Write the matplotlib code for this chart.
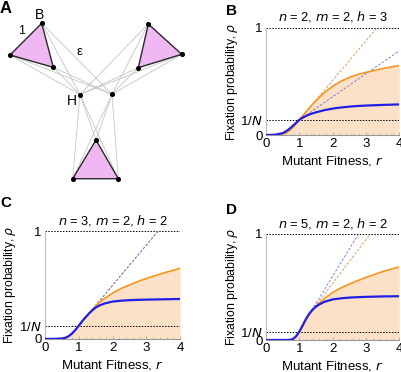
import numpy as np
import matplotlib
matplotlib.use('Agg')
import matplotlib.pyplot as plt

NARROW = ['Liberation Sans Narrow', 'Liberation Sans', 'DejaVu Sans']
plt.rcParams['font.family'] = NARROW
plt.rcParams['mathtext.fontset'] = 'custom'
plt.rcParams['mathtext.rm'] = 'Liberation Sans Narrow'
plt.rcParams['mathtext.it'] = 'Liberation Sans Narrow:italic'

# ---- panel A: network (pixel coordinates) ----
tri_tl = [(41.7, 23.3), (10.0, 55.0), (53.3, 67.3)]
tri_tr = [(148.3, 24.0), (181.7, 54.3), (138.3, 67.7)]
tri_bt = [(96.0, 140.0), (72.7, 178.7), (118.3, 178.7)]
hubs = [(80.0, 94.5), (112.0, 94.3)]

# ---- panels B-D: fixation probability curves ----
r = [0, 0.25, 0.5, 0.6, 0.7, 0.8, 0.9, 1.0, 1.1, 1.2, 1.3, 1.4, 1.5, 1.6,
     1.75, 2.0, 2.25, 2.5, 2.75, 3.0, 3.5, 4.0]

b_inv_n = 0.143
b_blue = [0, 0.002, 0.018, 0.035, 0.058, 0.085, 0.114, 0.143, 0.162, 0.178,
          0.192, 0.203, 0.212, 0.22, 0.232, 0.247, 0.257, 0.265, 0.271, 0.275,
          0.281, 0.286]
b_orange = [0, 0, 0.008, 0.02, 0.04, 0.068, 0.103, 0.143, 0.18, 0.216,
            0.252, 0.288, 0.322, 0.352, 0.395, 0.455, 0.502, 0.538, 0.565, 0.585,
            0.62, 0.648]
b_dash_blue = ([1.0, 4.0], [0.143, 0.786])
b_dash_orange = ([1.0, 3.33], [0.143, 1.0])

c_inv_n = 0.123
c_blue = [0, 0, 0.003, 0.01, 0.025, 0.05, 0.083, 0.123, 0.163, 0.2,
          0.235, 0.265, 0.29, 0.308, 0.327, 0.346, 0.354, 0.359, 0.362, 0.364,
          0.367, 0.37]
c_orange = [0, 0, 0.003, 0.01, 0.025, 0.05, 0.083, 0.123, 0.163, 0.2,
            0.236, 0.271, 0.305, 0.335, 0.372, 0.425, 0.467, 0.5, 0.532, 0.56,
            0.61, 0.654]
c_dash_blue = ([1.0, 3.35], [0.123, 1.0])
c_dash_orange = ([1.0, 3.35], [0.123, 1.0])

d_inv_n = 0.079
d_blue = [0, 0, 0, 0, 0.001, 0.008, 0.035, 0.08, 0.14, 0.2,
          0.25, 0.288, 0.315, 0.336, 0.36, 0.383, 0.393, 0.4, 0.404, 0.407,
          0.411, 0.413]
d_orange = [0, 0, 0, 0, 0.001, 0.005, 0.03, 0.079, 0.13, 0.19,
            0.24, 0.28, 0.318, 0.35, 0.39, 0.448, 0.492, 0.527, 0.56, 0.59,
            0.645, 0.69]
d_dash_blue = ([1.3, 2.78], [0.245, 1.0])
d_dash_orange = ([1.3, 3.13], [0.245, 1.0])

titles = [r'$n$ = 2, $m$ = 2, $h$ = 3', r'$n$ = 3, $m$ = 2, $h$ = 2',
          r'$n$ = 5, $m$ = 2, $h$ = 2']

ORANGE = '#f7941d'
BLUE = '#1f1fe6'
FILL = '#fde1c6'

fig = plt.figure(figsize=(4.02, 3.72), dpi=100)

# panel A
axA = fig.add_axes([0, 0.5, 0.5, 0.5])
axA.set_xlim(0, 201)
axA.set_ylim(186, 0)
axA.axis('off')
for tri in (tri_tl, tri_tr, tri_bt):
    for p in tri:
        for h in hubs:
            axA.plot([p[0], h[0]], [p[1], h[1]], color='#c4c4c4', lw=0.6, zorder=1)
for tri in (tri_tl, tri_tr, tri_bt):
    xs = [p[0] for p in tri]
    ys = [p[1] for p in tri]
    axA.fill(xs, ys, facecolor='#f0b8f2', edgecolor='#2a2a2a', lw=1.0, zorder=2)
allpts = tri_tl + tri_tr + tri_bt + hubs
axA.scatter([p[0] for p in allpts], [p[1] for p in allpts], s=7, color='black', zorder=3)
axA.text(40, 15, 'B', fontsize=10, ha='center', va='center')
axA.text(22, 31, '1', fontsize=9, ha='center', va='center')
axA.text(80, 52, 'ε', fontsize=9.5, ha='center', va='center')
axA.text(72, 101, 'H', fontsize=10, ha='center', va='center')


def panel(rect, blue, orange, inv_n, dash_b, dash_o, title):
    ax = fig.add_axes(rect)
    ax.fill_between(r, 0, orange, color=FILL, lw=0, zorder=1)
    ax.axhline(1.0, color='black', ls=(0, (1.5, 1.5)), lw=0.7, zorder=2)
    ax.axhline(inv_n, color='black', ls=(0, (1.5, 1.5)), lw=0.7, zorder=2)
    ax.plot(dash_o[0], dash_o[1], color='#d9884a', ls=(0, (3, 2)), lw=0.6, zorder=3)
    ax.plot(dash_b[0], dash_b[1], color='#6a6ae0', ls=(0, (3, 2)), lw=0.6, zorder=3)
    ax.plot(r, orange, color=ORANGE, lw=1.2, zorder=4)
    ax.plot(r, blue, color=BLUE, lw=1.6, zorder=5)
    ax.set_xlim(0, 4)
    ax.set_ylim(0, 1)
    ax.set_xticks([0, 1, 2, 3, 4])
    ax.set_xticks(np.arange(0, 4.01, 0.2), minor=True)
    ax.set_yticks([0, inv_n, 1])
    ax.set_yticklabels(['0', r'1/$N$', '1'])
    ax.tick_params(axis='x', which='major', direction='in', length=2.5, width=0.5,
                   color='#999999', labelsize=9.5, pad=2)
    ax.tick_params(axis='x', which='minor', direction='in', length=1.2, width=0.4,
                   color='#999999')
    ax.tick_params(axis='y', length=0, labelsize=9.5, pad=2.5)
    for s in ('top', 'right'):
        ax.spines[s].set_visible(False)
    ax.spines['left'].set_color('#bbbbbb')
    ax.spines['bottom'].set_color('#999999')
    ax.spines['left'].set_linewidth(0.8)
    ax.spines['bottom'].set_linewidth(0.8)
    ax.set_xlabel(r'Mutant Fitness, $r$', fontsize=9.5)
    ax.xaxis.set_label_coords(0.5, -0.18)
    ax.set_ylabel(r'Fixation probability, $\rho$', fontsize=8.8,
                  family=['Liberation Sans', 'DejaVu Sans'])
    ax.yaxis.set_label_coords(-0.2, 0.5)
    ax.set_title(title, fontsize=9.3, pad=5)
    return ax


panel([0.662, 0.637, 0.331, 0.288], b_blue, b_orange, b_inv_n,
      b_dash_blue, b_dash_orange, titles[0])
panel([0.112, 0.089, 0.336, 0.290], c_blue, c_orange, c_inv_n,
      c_dash_blue, c_dash_orange, titles[1])
panel([0.662, 0.086, 0.331, 0.285], d_blue, d_orange, d_inv_n,
      d_dash_blue, d_dash_orange, titles[2])

fig.text(0.0, 0.998, 'A', fontsize=12, fontweight='bold', ha='left', va='top')
fig.text(0.563, 0.99, 'B', fontsize=11, fontweight='bold', ha='left', va='top')
fig.text(0.0, 0.472, 'C', fontsize=11, fontweight='bold', ha='left', va='top')
fig.text(0.563, 0.454, 'D', fontsize=11, fontweight='bold', ha='left', va='top')

fig.savefig('out.png', dpi=100)
